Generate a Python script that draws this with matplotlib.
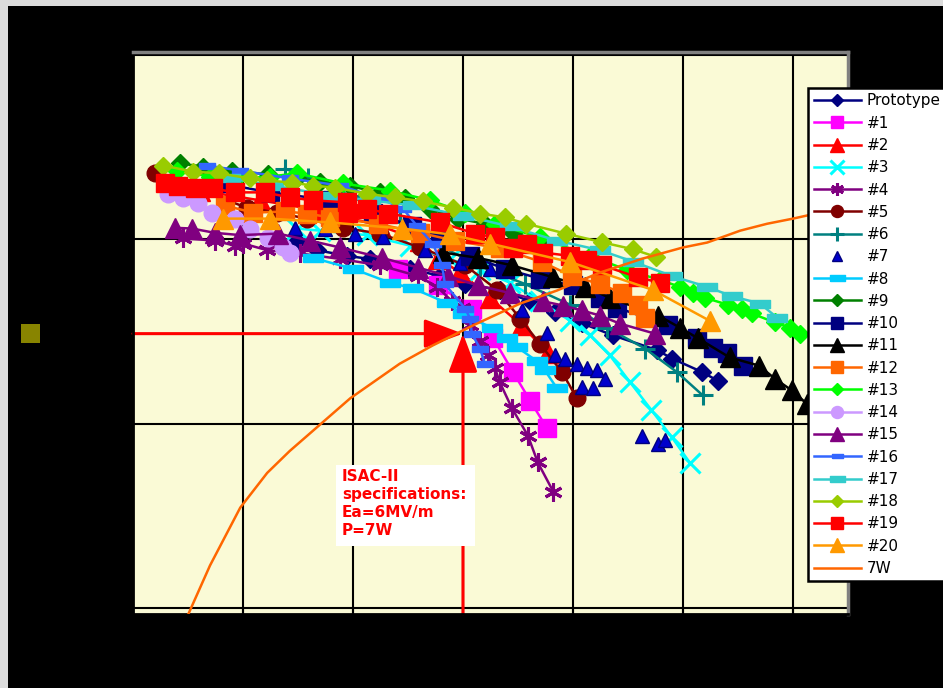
import matplotlib
matplotlib.use("Agg")
import matplotlib.pyplot as plt
from matplotlib.patches import Rectangle
from matplotlib.ticker import NullLocator

plt.rcParams['font.family'] = ['DejaVu Sans']

# Accelerating gradient Ea (MV/m) and intrinsic quality factor Q0 (units of 1e9)
proto_ea = [2.98, 3.35, 3.89, 4.31, 5.04, 5.58, 6.04, 6.67, 7.22, 7.67, 8.16, 8.73, 9.53, 9.80, 10.35, 10.64]
proto_q0 = [0.98, 0.87, 0.81, 0.78, 0.69, 0.63, 0.57, 0.53, 0.46, 0.40, 0.35, 0.30, 0.25, 0.225, 0.19, 0.17]

c1_ea = [4.82, 5.55, 6.16, 6.55, 6.91, 7.22, 7.53]
c1_q0 = [0.69, 0.56, 0.42, 0.29, 0.19, 0.133, 0.094]

c2_ea = [1.22, 2.31, 3.40, 4.49, 5.22, 5.55, 5.95, 6.49, 7.07, 7.55]
c2_q0 = [1.83, 1.62, 1.43, 1.18, 0.98, 0.78, 0.66, 0.48, 0.34, 0.24]

c3_ea = [2.98, 3.40, 4.25, 5.04, 5.76, 6.31, 6.85, 7.40, 7.95, 8.31, 8.67, 9.04, 9.42, 9.80, 10.13]
c3_q0 = [1.14, 1.11, 1.05, 0.92, 0.78, 0.68, 0.58, 0.46, 0.36, 0.30, 0.234, 0.167, 0.119, 0.084, 0.061]

c4_ea = [0.91, 1.49, 1.85, 2.00, 2.44, 3.04, 3.76, 4.49, 5.18, 5.53, 5.80, 5.98, 6.13, 6.31, 6.45,
         6.58, 6.67, 6.89, 7.18, 7.36, 7.64]
c4_q0 = [1.01, 0.98, 0.92, 0.945, 0.87, 0.835, 0.78, 0.72, 0.63, 0.55, 0.46, 0.425, 0.34, 0.28, 0.234,
         0.20, 0.167, 0.121, 0.086, 0.0615, 0.0428]

c5_ea = [0.40, 1.22, 2.07, 2.62, 3.16, 3.82, 4.49, 5.22, 6.04, 6.62, 7.04, 7.40, 7.80, 8.07]
c5_q0 = [2.27, 1.83, 1.48, 1.39, 1.29, 1.15, 1.07, 0.90, 0.72, 0.53, 0.37, 0.27, 0.19, 0.137]

c6_ea = [2.76, 3.18, 3.95, 4.85, 5.58, 6.31, 7.13, 7.95, 8.62, 9.31, 9.89, 10.36]
c6_q0 = [2.41, 2.15, 1.72, 1.23, 0.92, 0.71, 0.57, 0.44, 0.33, 0.255, 0.19, 0.142]

c7_ea = [2.95, 3.49, 4.04, 4.55, 5.31, 5.95, 6.49, 7.07, 7.53, 7.67, 7.85, 8.07, 8.25, 8.44, 8.58,
         8.16, 8.36, 9.25, 9.55, 9.67]
c7_q0 = [1.15, 1.13, 1.07, 1.02, 0.87, 0.74, 0.69, 0.41, 0.31, 0.234, 0.225, 0.21, 0.20, 0.194, 0.175,
         0.157, 0.155, 0.086, 0.077, 0.081]

c8_ea = [3.27, 4.00, 4.67, 5.09, 5.71, 6.00, 6.53, 6.80, 6.98, 7.35, 7.49, 7.71]
c8_q0 = [0.79, 0.69, 0.58, 0.54, 0.45, 0.39, 0.33, 0.29, 0.26, 0.217, 0.194, 0.155]

c9_ea = [0.85, 1.27, 1.80, 2.45, 2.98, 3.40, 3.95, 4.49, 4.95, 5.40, 5.91, 6.40, 6.91, 7.40]
c9_q0 = [2.57, 2.47, 2.35, 2.24, 2.13, 2.05, 1.93, 1.79, 1.66, 1.46, 1.29, 1.21, 1.08, 0.98]

c10_ea = [1.53, 2.49, 3.62, 4.36, 5.07, 5.58, 6.13, 6.76, 7.40, 8.00, 8.49, 8.80, 9.73, 10.25, 10.55, 10.80, 11.09]
c10_q0 = [2.02, 1.79, 1.62, 1.38, 1.18, 1.01, 0.81, 0.69, 0.61, 0.56, 0.48, 0.425, 0.34, 0.29, 0.258, 0.24, 0.206]

c11_ea = [5.64, 6.27, 6.89, 7.64, 8.22, 8.67, 9.55, 9.95, 10.27, 10.85, 11.38, 11.67, 11.98, 12.25, 12.58]
c11_q0 = [0.845, 0.79, 0.72, 0.62, 0.55, 0.48, 0.385, 0.33, 0.29, 0.228, 0.206, 0.175, 0.151, 0.128, 0.109]

c12_ea = [1.67, 2.18, 2.76, 3.16, 3.58, 4.45, 5.22, 5.85, 6.67, 7.44, 7.98, 8.49, 8.89, 9.18, 9.31]
c12_q0 = [1.52, 1.39, 1.41, 1.375, 1.31, 1.21, 1.08, 0.98, 0.89, 0.75, 0.63, 0.57, 0.51, 0.44, 0.375]

c13_ea = [0.80, 1.40, 1.89, 2.49, 2.98, 3.82, 4.67, 5.40, 6.04, 6.58, 7.40, 8.31, 8.98, 9.58, 9.95,
          10.18, 10.40, 10.82, 11.07, 11.25, 11.67, 11.95, 12.13]
c13_q0 = [2.35, 2.18, 2.13, 2.18, 2.27, 2.00, 1.83, 1.62, 1.39, 1.21, 1.02, 0.81, 0.68, 0.60, 0.55,
          0.51, 0.48, 0.44, 0.42, 0.395, 0.353, 0.331, 0.307]

c14_ea = [0.64, 0.91, 1.18, 1.44, 1.85, 2.13, 2.45, 2.73, 2.85]
c14_q0 = [1.76, 1.66, 1.56, 1.39, 1.29, 1.14, 1.01, 0.90, 0.835]

c15_ea = [0.76, 1.07, 1.49, 1.95, 2.64, 3.22, 3.76, 4.53, 5.18, 5.73, 6.27, 6.85, 7.45, 7.82, 8.16, 8.49, 8.85, 9.49]
c15_q0 = [1.15, 1.14, 1.08, 1.05, 1.07, 0.98, 0.90, 0.79, 0.70, 0.63, 0.56, 0.51, 0.46, 0.436, 0.41, 0.385, 0.348, 0.307]

c16_ea = [1.35, 1.95, 2.85, 3.76, 4.49, 4.91, 5.16, 5.45, 5.62, 5.67, 6.04, 6.13, 6.16, 6.31, 6.40]
c16_q0 = [2.50, 2.35, 2.13, 1.95, 1.66, 1.46, 1.18, 0.945, 0.72, 0.57, 0.42, 0.37, 0.307, 0.255, 0.209]

c17_ea = [1.76, 2.55, 3.58, 4.31, 5.09, 6.00, 6.85, 7.71, 8.49, 9.09, 9.80, 10.44, 10.89, 11.40, 11.71]
c17_q0 = [2.13, 1.95, 1.72, 1.62, 1.52, 1.34, 1.17, 0.98, 0.87, 0.755, 0.63, 0.55, 0.49, 0.447, 0.375]

c18_ea = [0.55, 1.09, 1.56, 2.13, 2.44, 2.89, 3.27, 3.67, 4.25, 4.76, 5.27, 5.82, 6.31, 6.76, 7.15,
          7.87, 8.53, 9.09, 9.51]
c18_q0 = [2.50, 2.32, 2.27, 2.13, 2.08, 2.02, 1.95, 1.90, 1.76, 1.68, 1.60, 1.48, 1.375, 1.31, 1.21,
          1.07, 0.96, 0.88, 0.80]

c19_ea = [0.58, 0.82, 1.13, 1.45, 1.85, 2.40, 2.85, 3.27, 3.89, 3.91, 4.25, 4.64, 5.58, 6.22, 6.58,
          6.91, 7.16, 7.45, 7.95, 8.25, 8.53, 9.18, 9.58]
c19_q0 = [2.00, 1.95, 1.88, 1.88, 1.79, 1.79, 1.68, 1.62, 1.58, 1.39, 1.46, 1.375, 1.23, 1.07, 1.02,
          0.89, 0.945, 0.845, 0.81, 0.765, 0.72, 0.62, 0.58]

c20_ea = [1.64, 2.49, 3.58, 4.89, 5.76, 6.49, 7.95, 9.45, 10.49]
c20_q0 = [1.29, 1.29, 1.23, 1.14, 1.06, 0.945, 0.75, 0.53, 0.36]

# Constant 7 W dissipated-power line
p7w_ea = [0.98, 1.40, 1.95, 2.44, 2.85, 3.95, 4.85, 5.45, 6.18, 7.04, 7.71, 8.49, 9.27, 10.0, 10.44,
          11.04, 11.53, 12.0, 12.25, 13.0]
p7w_q0 = [0.0089, 0.017, 0.035, 0.054, 0.071, 0.137, 0.211, 0.265, 0.34, 0.447, 0.526, 0.658, 0.784,
          0.90, 0.957, 1.11, 1.21, 1.29, 1.34, 1.52]

# ISAC-II specification point
spec_ea = 6.0
spec_q0 = 0.307

W, H = 943, 688

def fx(px):
    return px / W

def fy(py):
    return 1 - py / H

fig = plt.figure(figsize=(W / 100, H / 100), dpi=100, facecolor='black')

# light frame along the left and top edges
fig.patches.append(Rectangle((0, 0), 8 / W, 1, transform=fig.transFigure,
                             fc='#DCDCDC', ec='none', zorder=0))
fig.patches.append(Rectangle((0, fy(6)), 1, 6 / H, transform=fig.transFigure,
                             fc='#DCDCDC', ec='none', zorder=0))
fig.patches.append(Rectangle((fx(21), fy(343)), 19 / W, 19 / H, transform=fig.transFigure,
                             fc='#888400', ec='none', zorder=1))

ax = fig.add_axes([fx(133), fy(614), (848 - 133) / W, (614 - 52) / H])
ax.set_facecolor('#FAFAD6')
ax.set_xlim(0, 13)
ax.set_yscale('log')
ax.set_ylim(0.00928, 10.32)
ax.set_xticks(range(0, 13, 2))
ax.set_yticks([0.01, 0.1, 1, 10])
ax.yaxis.set_minor_locator(NullLocator())
ax.grid(True, color='black', lw=1.5)
ax.set_axisbelow(True)
ax.tick_params(axis='x', direction='in', length=5, width=1.5, color='black', labelbottom=False)
ax.tick_params(axis='y', length=0, labelleft=False)
for side in ('top', 'right'):
    ax.spines[side].set_color('#808080')
    ax.spines[side].set_linewidth(2.5)
for side in ('left', 'bottom'):
    ax.spines[side].set_color('black')
    ax.spines[side].set_linewidth(2)

bar = [(-1, -0.4), (1, -0.4), (1, 0.4), (-1, 0.4), (-1, -0.4)]
star = (6, 2, 0)

series = [
    ('Prototype', proto_ea, proto_q0, '#000080', 'D', 9, '-'),
    ('#1', c1_ea, c1_q0, '#FF00FF', 's', 12.5, '-'),
    ('#2', c2_ea, c2_q0, '#FF0000', '^', 14, '-'),
    ('#3', c3_ea, c3_q0, '#00FFFF', 'x', 14, '-'),
    ('#4', c4_ea, c4_q0, '#800080', star, 13, '-'),
    ('#5', c5_ea, c5_q0, '#800000', 'o', 12, '-'),
    ('#6', c6_ea, c6_q0, '#008080', '+', 14, '-'),
    ('#7', c7_ea, c7_q0, '#0000CC', '^', 9.5, 'none'),
    ('#8', c8_ea, c8_q0, '#00CCFF', bar, 15, '-'),
    ('#9', c9_ea, c9_q0, '#008000', 'D', 9, '-'),
    ('#10', c10_ea, c10_q0, '#000080', 's', 12.5, '-'),
    ('#11', c11_ea, c11_q0, '#000000', '^', 14, '-'),
    ('#12', c12_ea, c12_q0, '#FF6600', 's', 12.5, '-'),
    ('#13', c13_ea, c13_q0, '#00FF00', 'D', 9, '-'),
    ('#14', c14_ea, c14_q0, '#CC99FF', 'o', 12, '-'),
    ('#15', c15_ea, c15_q0, '#800080', '^', 14, '-'),
    ('#16', c16_ea, c16_q0, '#3366FF', bar, 11, '-'),
    ('#17', c17_ea, c17_q0, '#33CCCC', bar, 15, '-'),
    ('#18', c18_ea, c18_q0, '#99CC00', 'D', 9, '-'),
    ('#19', c19_ea, c19_q0, '#FF0000', 's', 12.5, '-'),
    ('#20', c20_ea, c20_q0, '#FF9900', '^', 14, '-'),
]

for label, ea, q0, color, marker, ms, ls in series:
    line_marks = marker in ('x', '+') or isinstance(marker, tuple)
    edge = '#000080' if label == '#7' else color
    ax.plot(ea, q0, linestyle=ls, color=color, lw=1.8, marker=marker, markersize=ms,
            markerfacecolor=color, markeredgecolor=edge,
            markeredgewidth=2.2 if line_marks else 1.0, label=label, zorder=3)

ax.plot(p7w_ea, p7w_q0, color='#FF6600', lw=1.8, label='7W', zorder=3)

# red arrows marking the specification point
arrow_style = dict(arrowstyle='-|>,head_length=2.4,head_width=0.9', color='#FF0000',
                   lw=2.2, mutation_scale=10, shrinkA=0, shrinkB=0)
ax.annotate('', xy=(spec_ea, spec_q0), xytext=(0, spec_q0), arrowprops=arrow_style, zorder=2)
ax.annotate('', xy=(spec_ea, spec_q0), xytext=(spec_ea, 0.00928), arrowprops=arrow_style, zorder=2)

leg = ax.legend(loc='upper left', bbox_to_anchor=(fx(808), fy(88)), bbox_transform=fig.transFigure,
                frameon=True, fancybox=False, edgecolor='black', facecolor='white', framealpha=1,
                fontsize=11, handlelength=3.08, handletextpad=0.39, borderpad=0.36,
                labelspacing=0.475, markerscale=0.72, borderaxespad=0)
leg.get_frame().set_linewidth(1.8)
leg.set_zorder(10)

# specification note
fig.patches.append(Rectangle((fx(336), fy(546)), (475 - 336) / W, (546 - 465) / H,
                             transform=fig.transFigure, fc='white', ec='none', zorder=5))
fig.text(fx(342), fy(469), 'ISAC-II\nspecifications:\nEa=6MV/m\nP=7W', color='#FF0000',
         fontweight='bold', fontsize=11, ha='left', va='top', linespacing=1.25, zorder=6)

fig.savefig('out.png', dpi=100, facecolor='black')
